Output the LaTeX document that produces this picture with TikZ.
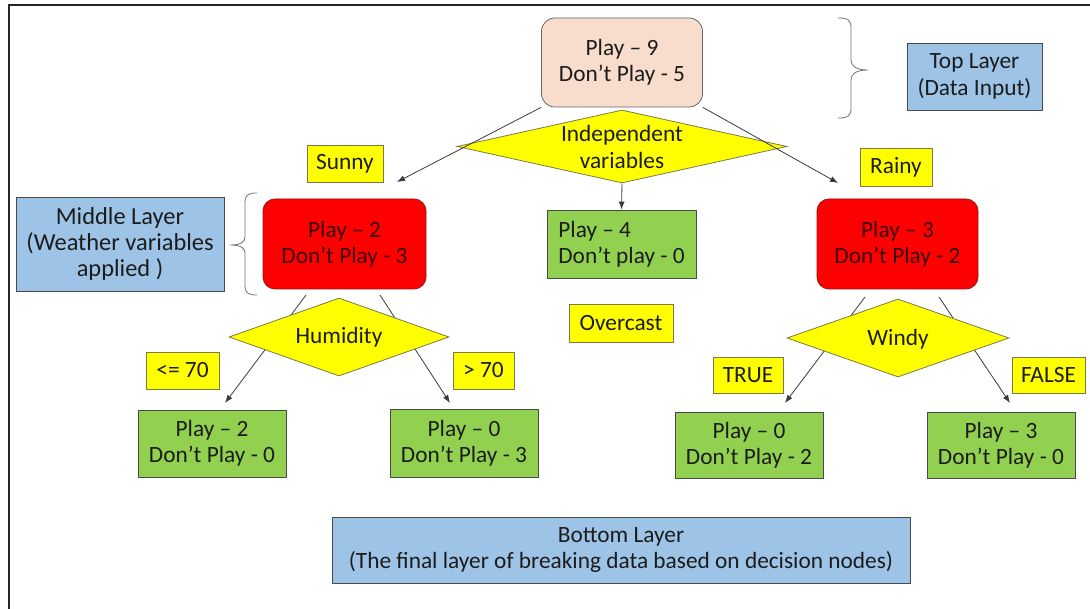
\documentclass[tikz,border=0pt]{standalone}
\usepackage{fontspec}
\setmainfont{Carlito}
\usetikzlibrary{arrows.meta,shapes.geometric}
\definecolor{peach}{HTML}{F8DCCC}
\definecolor{ybox}{HTML}{FFFF00}
\definecolor{ybord}{HTML}{7A7A4A}
\definecolor{rbox}{HTML}{FF0000}
\definecolor{rbord}{HTML}{9A1010}
\definecolor{rtext}{HTML}{3A0505}
\definecolor{gbox}{HTML}{92D050}
\definecolor{gbord}{HTML}{4A4A4A}
\definecolor{bbox}{HTML}{9DC3E6}
\definecolor{bbord}{HTML}{4A4A4A}
\definecolor{txt}{HTML}{1C1C1C}
\definecolor{lin}{HTML}{3A3A3A}
\begin{document}
\begin{tikzpicture}[x=0.75pt,y=-0.75pt,
  every node/.style={font=\fontsize{17.5}{19.8}\selectfont, text=txt, inner sep=0pt, align=center},
  base/.style={draw, line width=0.6pt, minimum width=#1},
  topbox/.style={base=120.75pt, fill=peach, draw=black!60, rounded corners=10pt, minimum height=66.75pt},
  redbox/.style={base=#1, fill=rbox, draw=rbord, text=rtext, rounded corners=9pt, minimum height=67.5pt},
  greenbox/.style={base=#1, fill=gbox, draw=gbord},
  bluebox/.style={base=#1, fill=bbox, draw=bbord},
  ylab/.style={base=#1, fill=ybox, draw=ybord},
  dia/.style={diamond, draw=ybord, fill=ybox, line width=0.6pt},
  arr/.style={draw=lin, line width=0.6pt, -{Latex[length=6pt,width=4.5pt]}},
  brace/.style={draw=black!55, line width=0.6pt}
]
\useasboundingbox (0,0) rectangle (1090,609);
% frame
\draw[black!85, line width=1.7pt] (1090,5) -- (9,5) -- (9,609);

% top
\node[topbox] (top) at (622,62.5) {Play – 9\\Don’t Play - 5};
\node[bluebox=101.25pt, minimum height=50.25pt] (toplayer) at (974.5,76.5) {Top Layer\\(Data Input)};
\draw[brace] (838,18) .. controls (848,18) and (851,20) .. (851,28) -- (851,60)
  .. controls (851,66) and (856,70) .. (868,70) .. controls (856,70) and (851,74) .. (851,80)
  -- (851,108) .. controls (851,116) and (848,118) .. (838,118);

% independent variables
\coordinate (sunnyend) at (397,182);
\coordinate (rainyend) at (838,183);
\node[dia, minimum width=247.5pt, minimum height=54.75pt] (indep) at (622,146.5) {};
\draw[arr] (top.south west) -- (sunnyend);
\draw[arr] (top.south east) -- (rainyend);
\node (indeptext) at (622,147) {Independent\\variables};

\node[ylab=57pt, minimum height=27.75pt] (sunny) at (345,163.5) {Sunny};
\node[ylab=54pt, minimum height=28.5pt] (rainy) at (896,167) {Rainy};

% middle layer
\node[bluebox=156pt, minimum height=70.5pt, font=\fontsize{18.3}{19.8}\selectfont] (midlayer) at (120,244) {Middle Layer\\(Weather variables\\applied )};
\draw[brace] (257,193) .. controls (248,193) and (245,195) .. (245,203) -- (245,237)
  .. controls (245,242) and (241,245) .. (230,245) .. controls (241,245) and (245,248) .. (245,253)
  -- (245,285) .. controls (245,293) and (248,295) .. (257,295);

\node[redbox=122.25pt] (redL) at (344.5,244) {Play – 2\\Don’t Play - 3};
\node[greenbox=111.75pt, minimum height=51pt, align=left] (greenM) at (621.5,244) {Play – 4\\Don’t play - 0};
\node[redbox=120.75pt] (redR) at (897.5,244) {Play – 3\\Don’t Play - 2};
\draw[arr] (indep.south) -- (greenM.north);

\node[ylab=78pt, minimum height=28.5pt] (overcast) at (621,323) {Overcast};

% humidity branch
\coordinate (hl0) at (306,295);
\coordinate (hl1) at (225,403);
\coordinate (hr0) at (380,295);
\coordinate (hr1) at (450,403);
\draw[arr] (hl0) -- (hl1);
\draw[arr] (hr0) -- (hr1);
\node[dia, minimum width=165pt, minimum height=58.5pt] (humid) at (339,337) {};
\node (humidtext) at (339,337) {Humidity};
\node[ylab=54.75pt, minimum height=27.75pt] (le70) at (182.5,370.5) {<= 70};
\node[ylab=45.75pt, minimum height=27.75pt] (gt70) at (483.5,370.5) {> 70};

% windy branch
\coordinate (wl0) at (865,297);
\coordinate (wl1) at (785,403);
\coordinate (wr0) at (939,297);
\coordinate (wr1) at (1010,403);
\draw[arr] (wl0) -- (wl1);
\draw[arr] (wr0) -- (wr1);
\node[dia, minimum width=166.5pt, minimum height=58.5pt] (windy) at (898,338) {};
\node (windytext) at (898,339) {Windy};
\node[ylab=52.5pt, minimum height=27pt] (true) at (748,375) {TRUE};
\node[ylab=54.75pt, minimum height=27pt] (false) at (1048.5,375) {FALSE};

% leaves
\node[greenbox=111pt, minimum height=50.25pt] (LL) at (212,443.5) {Play – 2\\Don’t Play - 0};
\node[greenbox=111pt, minimum height=51pt] (LR) at (464,443) {Play – 0\\Don’t Play - 3};
\node[greenbox=111pt, minimum height=49.5pt] (RL) at (749,445) {Play – 0\\Don’t Play - 2};
\node[greenbox=111pt, minimum height=49.5pt] (RR) at (1001,445) {Play – 3\\Don’t Play - 0};

% bottom layer
\node[bluebox=433.5pt, minimum height=49.5pt] (bottom) at (621,550) {Bottom Layer\\(The final layer of breaking data based on decision nodes)};
\end{tikzpicture}
\end{document}
